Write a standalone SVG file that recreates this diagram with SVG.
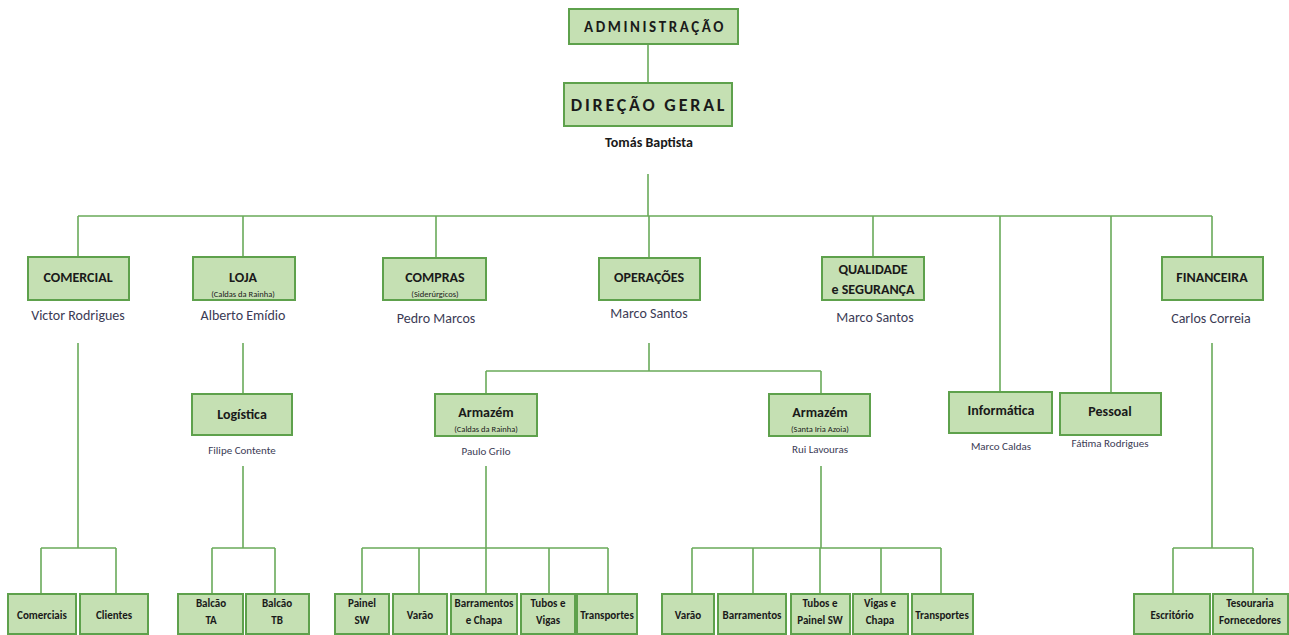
<svg xmlns="http://www.w3.org/2000/svg" width="1289" height="635" viewBox="0 0 1289 635">
<style>
.bx{fill:#c5e0b3;stroke:#5ea14c;stroke-width:2}
.ln{stroke:#6aab5a;stroke-width:1.6;fill:none}
text{font-family:"Carlito","Liberation Sans Narrow","Liberation Sans",sans-serif;text-anchor:middle;fill:#1a1a1a}
.t{font-size:14px;font-weight:bold}
.s{font-size:8.5px}
.n{font-size:14px;fill:#3b3b55}
.m{font-size:11px;fill:#3b3b55}
.b{font-size:11px;font-weight:bold}
.h{font-size:15px;font-weight:bold;letter-spacing:2.6px}
.h2{font-size:18px;font-weight:bold;letter-spacing:2.8px}
</style>
<rect width="1289" height="635" fill="#fff"/>
<g id="connectors" class="ln">
<path d="M648 44V83M648 174V216M78 216H1212M78 216V257M243 216V257M436 216V258M649 216V258M873 216V257M1000 216V392M1111 216V393M1212 216V257"/>
<path d="M78 343V548M41 548H116M41 548V593M116 548V593"/>
<path d="M243 343V394M243 466V548M212 548H275M212 548V593M275 548V593"/>
<path d="M649 343V371M486 371H821M486 371V394M821 371V394"/>
<path d="M486 466V548M362 548H608M362 548V594M419 548V594M486 548V594M549 548V594M608 548V594"/>
<path d="M821 466V548M692 548H941M692 548V594M753 548V594M820 548V594M881 548V594M941 548V594"/>
<path d="M1212 343V548M1173 548H1253M1173 548V594M1253 548V594"/>
</g>
<g id="administracao"><rect class="bx" x="569" y="9" width="169" height="35"/><text class="h" x="655" y="32">ADMINISTRAÇÃO</text></g>
<g id="direcao"><rect class="bx" x="564" y="83" width="168" height="43"/><text class="h2" x="649" y="111">DIREÇÃO GERAL</text><text class="t" x="649" y="147">Tomás Baptista</text></g>
<g id="comercial"><rect class="bx" x="28" y="257" width="101" height="43"/><text class="t" x="78" y="282">COMERCIAL</text><text class="n" x="78" y="320">Victor Rodrigues</text></g>
<g id="loja"><rect class="bx" x="193" y="257" width="102" height="43"/><text class="t" x="243" y="282">LOJA</text><text class="s" x="243" y="297">(Caldas da Rainha)</text><text class="n" x="243" y="320">Alberto Emídio</text></g>
<g id="compras"><rect class="bx" x="383" y="258" width="103" height="42"/><text class="t" x="435" y="282">COMPRAS</text><text class="s" x="435" y="297">(Siderúrgicos)</text><text class="n" x="436" y="323">Pedro Marcos</text></g>
<g id="operacoes"><rect class="bx" x="599" y="258" width="101" height="42"/><text class="t" x="649" y="282">OPERAÇÕES</text><text class="n" x="649" y="318">Marco Santos</text></g>
<g id="qualidade"><rect class="bx" x="822" y="257" width="102" height="43"/><text class="t" x="873" y="274">QUALIDADE</text><text class="t" x="873" y="294">e SEGURANÇA</text><text class="n" x="875" y="322">Marco Santos</text></g>
<g id="financeira"><rect class="bx" x="1162" y="257" width="101" height="43"/><text class="t" x="1212" y="282">FINANCEIRA</text><text class="n" x="1211" y="323">Carlos Correia</text></g>
<g id="logistica"><rect class="bx" x="192" y="394" width="100" height="41"/><text class="t" x="242" y="419">Logística</text><text class="m" x="242" y="454">Filipe Contente</text></g>
<g id="armazem1"><rect class="bx" x="435" y="394" width="102" height="42"/><text class="t" x="486" y="417">Armazém</text><text class="s" x="486" y="432">(Caldas da Rainha)</text><text class="m" x="486" y="455">Paulo Grilo</text></g>
<g id="armazem2"><rect class="bx" x="769" y="394" width="101" height="42"/><text class="t" x="820" y="417">Armazém</text><text class="s" x="820" y="432">(Santa Iria Azoia)</text><text class="m" x="820" y="453">Rui Lavouras</text></g>
<g id="informatica"><rect class="bx" x="949" y="392" width="103" height="41"/><text class="t" x="1001" y="415">Informática</text><text class="m" x="1001" y="450">Marco Caldas</text></g>
<g id="pessoal"><rect class="bx" x="1060" y="393" width="101" height="42"/><text class="t" x="1110" y="416">Pessoal</text><text class="m" x="1110" y="447">Fátima Rodrigues</text></g>
<g id="comerciais"><rect class="bx" x="8" y="594" width="68" height="40"/><text class="b" x="42" y="619">Comerciais</text></g>
<g id="clientes"><rect class="bx" x="80" y="594" width="68" height="40"/><text class="b" x="114" y="619">Clientes</text></g>
<g id="balcao-ta"><rect class="bx" x="178" y="594" width="65" height="40"/><text class="b" x="211" y="607">Balcão</text><text class="b" x="211" y="624">TA</text></g>
<g id="balcao-tb"><rect class="bx" x="246" y="594" width="63" height="40"/><text class="b" x="277" y="607">Balcão</text><text class="b" x="277" y="624">TB</text></g>
<g id="painel-sw"><rect class="bx" x="335" y="594" width="54" height="40"/><text class="b" x="362" y="607">Painel</text><text class="b" x="362" y="624">SW</text></g>
<g id="varao1"><rect class="bx" x="393" y="594" width="54" height="40"/><text class="b" x="420" y="619">Varão</text></g>
<g id="barramentos-chapa"><rect class="bx" x="451" y="594" width="66" height="40"/><text class="b" x="484" y="607">Barramentos</text><text class="b" x="484" y="624">e Chapa</text></g>
<g id="tubos-vigas"><rect class="bx" x="521" y="594" width="54" height="40"/><text class="b" x="548" y="607">Tubos e</text><text class="b" x="548" y="624">Vigas</text></g>
<g id="transportes1"><rect class="bx" x="577" y="594" width="60" height="40"/><text class="b" x="607" y="619">Transportes</text></g>
<g id="varao2"><rect class="bx" x="662" y="594" width="52" height="40"/><text class="b" x="688" y="619">Varão</text></g>
<g id="barramentos"><rect class="bx" x="718" y="594" width="68" height="40"/><text class="b" x="752" y="619">Barramentos</text></g>
<g id="tubos-painel"><rect class="bx" x="791" y="594" width="59" height="40"/><text class="b" x="820" y="607">Tubos e</text><text class="b" x="820" y="624">Painel SW</text></g>
<g id="vigas-chapa"><rect class="bx" x="853" y="594" width="55" height="40"/><text class="b" x="880" y="607">Vigas e</text><text class="b" x="880" y="624">Chapa</text></g>
<g id="transportes2"><rect class="bx" x="912" y="594" width="61" height="40"/><text class="b" x="942" y="619">Transportes</text></g>
<g id="escritorio"><rect class="bx" x="1134" y="594" width="76" height="40"/><text class="b" x="1172" y="619">Escritório</text></g>
<g id="tesouraria"><rect class="bx" x="1213" y="594" width="75" height="40"/><text class="b" x="1250" y="607">Tesouraria</text><text class="b" x="1250" y="624">Fornecedores</text></g>
</svg>
